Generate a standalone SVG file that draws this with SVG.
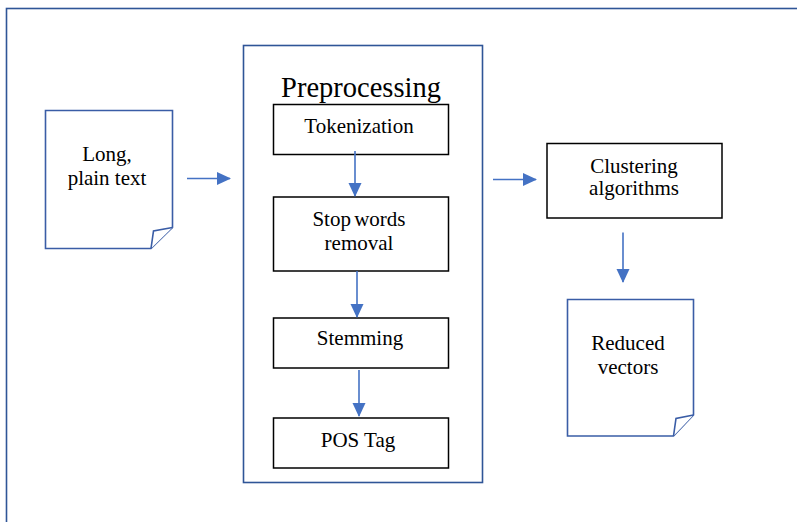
<svg xmlns="http://www.w3.org/2000/svg" width="797" height="522" viewBox="0 0 797 522">
<style>
.frame{fill:none;stroke:#2F5597;stroke-width:1.6}
.box{fill:#fff;stroke:#000;stroke-width:1.5}
.doc{fill:#fff;stroke:#3A5DA6;stroke-width:1.6;stroke-linejoin:miter}
.t{font-family:"Liberation Serif","Times New Roman",serif;font-size:21px;fill:#000;text-anchor:middle}
.title{font-size:28.5px}
.arr{stroke:#4472C4;stroke-width:1.6;fill:none;marker-end:url(#ah)}
</style>
<defs>
<marker id="ah" viewBox="0 0 14 14" refX="13" refY="7" markerWidth="14" markerHeight="14" markerUnits="userSpaceOnUse" orient="auto">
<path d="M0,0.5 L14,7 L0,13.5 Z" fill="#4472C4"/>
</marker>
</defs>
<rect width="797" height="522" fill="#fff"/>
<rect class="frame" x="6.5" y="8.5" width="800" height="530"/>
<g id="preprocessing">
<rect class="frame" x="243.5" y="45.5" width="239" height="437"/>
<text class="t title" x="361" y="97">Preprocessing</text>
</g>
<g id="long-plain-text">
<path class="doc" d="M45.5,110.5 H172.5 V227.5 L151,248.5 H45.5 Z"/>
<path class="doc" d="M151,248.5 L153.5,231 L172.5,227.5"/>
<text class="t" x="107" y="161">Long,</text>
<text class="t" x="107" y="185">plain text</text>
</g>
<g id="tokenization">
<rect class="box" x="273.5" y="104.5" width="175" height="50"/>
<text class="t" x="359" y="133">Tokenization</text>
</g>
<g id="stop-words">
<rect class="box" x="273.5" y="197" width="175" height="74"/>
<text class="t" x="359" y="226" word-spacing="-2">Stop words</text>
<text class="t" x="359" y="250">removal</text>
</g>
<g id="stemming">
<rect class="box" x="273.5" y="318" width="175" height="50"/>
<text class="t" x="360" y="345">Stemming</text>
</g>
<g id="pos-tag">
<rect class="box" x="273.5" y="418" width="175" height="50"/>
<text class="t" x="358" y="447">POS Tag</text>
</g>
<g id="clustering">
<rect class="box" x="547" y="143.5" width="175" height="74.5"/>
<text class="t" x="634" y="173">Clustering</text>
<text class="t" x="634" y="195">algorithms</text>
</g>
<g id="reduced-vectors">
<path class="doc" d="M567.5,299.5 H693.5 V415 L673.5,436 H567.5 Z"/>
<path class="doc" d="M673.5,436 L676,418.5 L693.5,415"/>
<text class="t" x="628" y="350">Reduced</text>
<text class="t" x="628" y="374">vectors</text>
</g>
<g id="connectors">
<line class="arr" x1="187" y1="178.5" x2="230" y2="178.5"/>
<line class="arr" x1="355" y1="151" x2="355" y2="196"/>
<line class="arr" x1="357" y1="271" x2="357" y2="317"/>
<line class="arr" x1="359" y1="370" x2="359" y2="416"/>
<line class="arr" x1="493" y1="179.5" x2="536" y2="179.5"/>
<line class="arr" x1="623" y1="232.5" x2="623" y2="282"/>
</g>
</svg>
